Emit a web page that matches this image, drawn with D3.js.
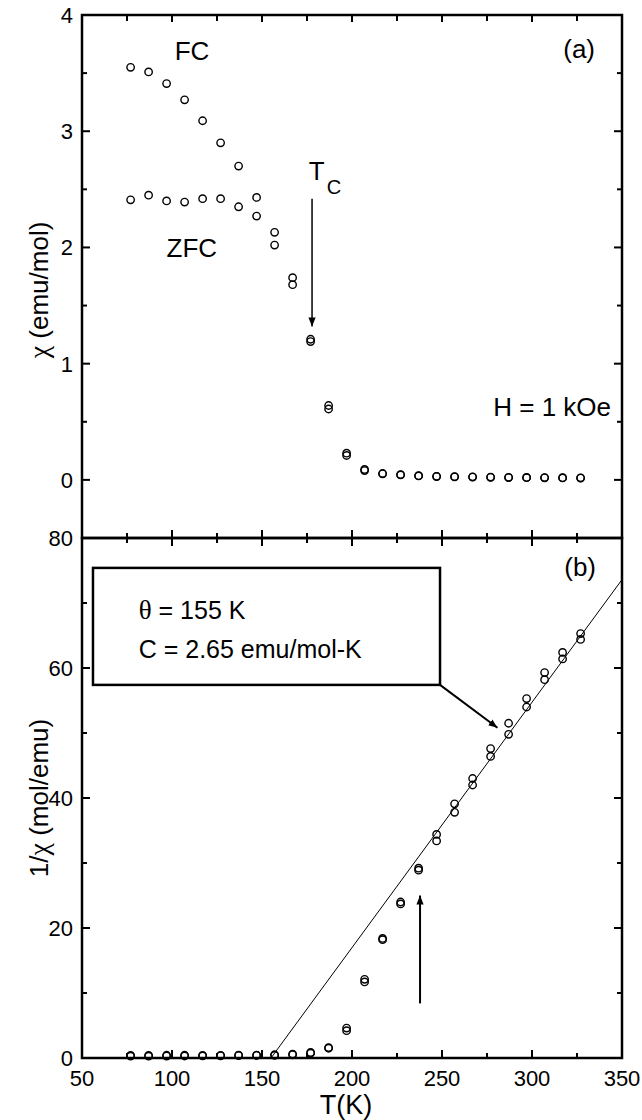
<!DOCTYPE html>
<html>
<head>
<meta charset="utf-8">
<script src="https://cdn.jsdelivr.net/npm/d3@7"></script>
<style>
  body { margin: 0; background: #fff; }
  text { font-family: "Liberation Sans", Arial, sans-serif; fill: #000; }
</style>
</head>
<body>
<svg id="chart" width="642" height="1120"></svg>
<script>
// temperatures (K), same for both panels
const temps = [77, 87, 97, 107, 117, 127, 137, 147, 157, 167, 177, 187, 197, 207, 217, 227, 237, 247, 257, 267, 277, 287, 297, 307, 317, 327];

// panel (a): chi (emu/mol)
const chiFC = [3.55, 3.51, 3.41, 3.27, 3.09, 2.90, 2.70, 2.43, 2.13, 1.74, 1.21, 0.64, 0.23, 0.09, 0.055, 0.046, 0.036, 0.031, 0.028, 0.026, 0.024, 0.022, 0.021, 0.020, 0.019, 0.018];
const chiZFC = [2.41, 2.45, 2.40, 2.39, 2.42, 2.42, 2.35, 2.27, 2.02, 1.68, 1.19, 0.61, 0.21, 0.08, 0.052, 0.043, 0.034, 0.029, 0.026, 0.024, 0.022, 0.020, 0.019, 0.018, 0.017, 0.016];

// panel (b): 1/chi (mol/emu)
const invFC = [0.28, 0.28, 0.29, 0.31, 0.32, 0.34, 0.37, 0.41, 0.4, 0.5, 0.75, 1.5, 4.2, 11.7, 18.2, 23.7, 28.9, 33.4, 37.8, 42.0, 46.4, 49.8, 54.0, 58.2, 61.4, 64.4];
const invZFC = [0.41, 0.41, 0.42, 0.42, 0.41, 0.41, 0.43, 0.44, 0.5, 0.6, 0.85, 1.6, 4.6, 12.1, 18.4, 24.0, 29.2, 34.4, 39.1, 43.0, 47.6, 51.5, 55.3, 59.3, 62.4, 65.3];

// Curie-Weiss fit line (T, 1/chi)
const fitT = [155, 350];
const fitInv = [0, 73.6];

// ticks
const xMajor = [50, 100, 150, 200, 250, 300, 350];
const xMinor = [75, 125, 175, 225, 275, 325];
const yaMajor = [0, 1, 2, 3, 4];
const yaMinor = [0.5, 1.5, 2.5, 3.5];
const ybMajor = [0, 20, 40, 60, 80];
const ybMinor = [10, 30, 50, 70];

const svg = d3.select('#chart');

const x = d3.scaleLinear().domain([50, 350]).range([82, 622]);
const ya = d3.scaleLinear().domain([-0.5, 4]).range([538, 15]);
const yb = d3.scaleLinear().domain([0, 80]).range([1058, 538]);

const axisW = 2.5;
const inner = [51, 349]; // tick positions strictly inside the frame

// vertical-edge ticks: at xPos, pointing dir (+1 right, -1 left)
const yTicks = (g, yScale, vals, xPos, dir, len) => {
  g.selectAll(null).data(vals).enter().append('line')
    .attr('x1', xPos).attr('x2', xPos + dir * len)
    .attr('y1', d => yScale(d)).attr('y2', d => yScale(d))
    .attr('stroke', '#000').attr('stroke-width', 2);
};
// horizontal-edge ticks: at yPos, pointing dir (+1 down, -1 up)
const xTicks = (g, vals, yPos, dir, len) => {
  g.selectAll(null).data(vals.filter(v => v > inner[0] && v < inner[1])).enter().append('line')
    .attr('x1', d => x(d)).attr('x2', d => x(d))
    .attr('y1', yPos).attr('y2', yPos + dir * len)
    .attr('stroke', '#000').attr('stroke-width', 2);
};

const dots = (g, xs, ys, yScale) => {
  g.selectAll(null).data(xs).enter().append('circle')
    .attr('cx', d => x(d)).attr('cy', (d, i) => yScale(ys[i]))
    .attr('r', 3.7).attr('fill', 'none').attr('stroke', '#000').attr('stroke-width', 1.4);
};

svg.append('defs').append('marker').attr('id', 'ah')
  .attr('viewBox', '0 0 10 10').attr('refX', 10).attr('refY', 5)
  .attr('markerWidth', 9).attr('markerHeight', 9).attr('markerUnits', 'userSpaceOnUse')
  .attr('orient', 'auto')
  .append('path').attr('d', 'M0,1 L10,5 L0,9 Z').attr('fill', '#000');

// ---- panel (a) ----
const ga = svg.append('g');
yTicks(ga, ya, yaMajor.slice(0, -1), x(50), 1, 8);
yTicks(ga, ya, yaMinor, x(50), 1, 5);
yTicks(ga, ya, yaMajor.slice(0, -1), x(350), -1, 8);
yTicks(ga, ya, yaMinor, x(350), -1, 5);
xTicks(ga, xMajor, ya(4), 1, 7);
xTicks(ga, xMinor, ya(4), 1, 6);
// shared middle axis: ticks on both sides
xTicks(ga, xMajor, ya(-0.5), -1, 8);
xTicks(ga, xMinor, ya(-0.5), -1, 5);
xTicks(ga, xMajor, ya(-0.5), 1, 8);
xTicks(ga, xMinor, ya(-0.5), 1, 5);

ga.selectAll(null).data(yaMajor).enter().append('text')
  .attr('x', 73).attr('y', d => ya(d)).attr('dy', '0.36em')
  .attr('text-anchor', 'end').style('font-size', '22px').text(d => d);

ga.append('rect').attr('x', x(50)).attr('y', ya(4))
  .attr('width', x(350) - x(50)).attr('height', ya(-0.5) - ya(4))
  .attr('fill', 'none').attr('stroke', '#000').attr('stroke-width', axisW);

dots(ga, temps, chiFC, ya);
dots(ga, temps, chiZFC, ya);

ga.append('text').attr('x', x(101.5)).attr('y', ya(3.61)).style('font-size', '26px').text('FC');
ga.append('text').attr('x', x(97)).attr('y', ya(1.92)).style('font-size', '26px').text('ZFC');
const tc = ga.append('text').attr('x', x(176)).attr('y', ya(2.58)).style('font-size', '26px');
tc.append('tspan').text('T');
tc.append('tspan').attr('dy', 14).attr('dx', 2).style('font-size', '20px').text('C');
ga.append('text').attr('x', x(350) - 27).attr('y', ya(3.63)).attr('text-anchor', 'end').style('font-size', '26px').text('(a)');
ga.append('text').attr('x', x(350) - 11).attr('y', ya(0.55)).attr('text-anchor', 'end').style('font-size', '26px').text('H = 1 kOe');

ga.append('line').attr('x1', x(177.8)).attr('x2', x(177.8))
  .attr('y1', ya(2.42)).attr('y2', ya(1.32))
  .attr('stroke', '#000').attr('stroke-width', 1.5).attr('marker-end', 'url(#ah)');

const ta = ga.append('text').attr('transform', 'translate(48,290) rotate(-90)')
  .attr('text-anchor', 'middle').style('font-size', '26px');
ta.append('tspan').style('font-family', '"Liberation Serif", serif').style('font-size', '28px').text('χ');
ta.append('tspan').text(' (emu/mol)');

// ---- panel (b) ----
const gb = svg.append('g');
yTicks(gb, yb, ybMajor.slice(1, -1), x(50), 1, 8);
yTicks(gb, yb, ybMinor, x(50), 1, 5);
yTicks(gb, yb, ybMajor.slice(1, -1), x(350), -1, 8);
yTicks(gb, yb, ybMinor, x(350), -1, 5);
xTicks(gb, xMajor, yb(0), -1, 8);
xTicks(gb, xMinor, yb(0), -1, 5);

gb.selectAll(null).data(ybMajor).enter().append('text')
  .attr('x', 73).attr('y', d => yb(d)).attr('dy', '0.36em')
  .attr('text-anchor', 'end').style('font-size', '22px').text(d => d);

gb.selectAll(null).data(xMajor).enter().append('text')
  .attr('x', d => x(d)).attr('y', yb(0) + 28)
  .attr('text-anchor', 'middle').style('font-size', '22px').text(d => d);

gb.append('rect').attr('x', x(50)).attr('y', yb(80))
  .attr('width', x(350) - x(50)).attr('height', yb(0) - yb(80))
  .attr('fill', 'none').attr('stroke', '#000').attr('stroke-width', axisW);

gb.append('path')
  .datum(fitT.map((t, i) => [t, fitInv[i]]))
  .attr('d', d3.line().x(d => x(d[0])).y(d => yb(d[1])))
  .attr('fill', 'none').attr('stroke', '#000').attr('stroke-width', 1);

dots(gb, temps, invFC, yb);
dots(gb, temps, invZFC, yb);

// parameter box
gb.append('rect').attr('x', x(56.1)).attr('y', yb(75.4))
  .attr('width', x(248.9) - x(56.1)).attr('height', yb(57.4) - yb(75.4))
  .attr('fill', '#fff').attr('stroke', '#000').attr('stroke-width', 2.5);
const th = gb.append('text').attr('x', x(81.5)).attr('y', yb(67.6)).style('font-size', '25px');
th.append('tspan').style('font-family', '"Liberation Serif", serif').style('font-size', '27px').text('θ');
th.append('tspan').text(' = 155 K');
gb.append('text').attr('x', x(81.5)).attr('y', yb(61.6)).style('font-size', '25px').text('C = 2.65 emu/mol-K');

gb.append('line').attr('x1', x(248.9)).attr('y1', yb(57.4))
  .attr('x2', x(280.8)).attr('y2', yb(50.8))
  .attr('stroke', '#000').attr('stroke-width', 2).attr('marker-end', 'url(#ah)');

gb.append('line').attr('x1', x(237.8)).attr('x2', x(237.8))
  .attr('y1', yb(8.4)).attr('y2', yb(25))
  .attr('stroke', '#000').attr('stroke-width', 2).attr('marker-end', 'url(#ah)');

gb.append('text').attr('x', x(350) - 26).attr('y', yb(74.2)).attr('text-anchor', 'end').style('font-size', '26px').text('(b)');

const tb = gb.append('text').attr('transform', 'translate(48,798) rotate(-90)')
  .attr('text-anchor', 'middle').style('font-size', '26px');
tb.append('tspan').text('1/');
tb.append('tspan').style('font-family', '"Liberation Serif", serif').style('font-size', '28px').text('χ');
tb.append('tspan').text(' (mol/emu)');

gb.append('text').attr('x', 346).attr('y', 1114).attr('text-anchor', 'middle').style('font-size', '27px').text('T(K)');
</script>
</body>
</html>
